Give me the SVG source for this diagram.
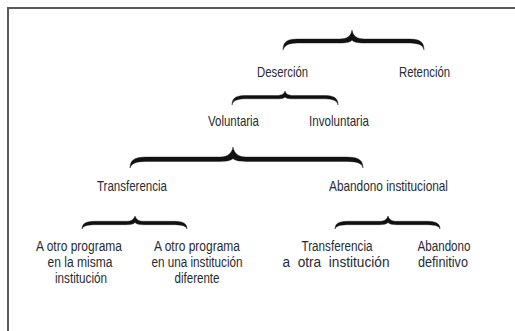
<svg xmlns="http://www.w3.org/2000/svg" width="515" height="331" viewBox="0 0 515 331">
<style>
text{font-family:"Liberation Sans Narrow","Liberation Sans",Arial,sans-serif;font-size:15px;fill:#1f2b36;}
.m{text-anchor:middle;font-size:14px;}
.brace{fill:#111;stroke:#111;stroke-width:0.4;}
.frame{stroke:#5a5a5a;stroke-width:2;fill:none;}
</style>
<rect width="515" height="331" fill="#fff"/>
<path class="frame" d="M8,331 L8,8 L515,8"/>
<g id="connectors">
<path class="brace" d="M283,50 C283,40 289,39 301,39 L340,39 C347,39 351,36 352,30 C353,36 357,39 364,39 L406,39 C418,39 424,40 424,50 C423,44 417,43 406,43 L364,43 C357,43 353,42 352,40 C351,42 347,43 340,43 L301,43 C290,43 285,44 283,50 Z"/>
<path class="brace" d="M232,105 C232,97 237,95.5 247,95.5 L276,95.5 C282,95.5 284,94 285,91 C286,94 288,95.5 294,95.5 L323,95.5 C333,95.5 338,97 338,105 C337,100 332,98.8 323,98.8 L294,98.8 C289,98.8 286,98.5 285,97 C284,98.5 281,98.8 276,98.8 L247,98.8 C238,98.8 233,100 232,105 Z"/>
<path class="brace" d="M130,168 C130,158 137,157 150,157 L220,157 C228,157 232,153 233,147 C234,153 238,157 246,157 L343,157 C356,157 363,158 363,168 C362,162 355,161.4 343,161.4 L246,161.4 C239,161.4 235,160.5 233,158.5 C231,160.5 227,161.4 220,161.4 L150,161.4 C138,161.4 132,162 130,168 Z"/>
<path class="brace" d="M82,229 C82,222.5 87,221.3 97,221.3 L126,221.3 C132,221.3 134,219 135,216 C136,219 138,221.3 144,221.3 L172,221.3 C182,221.3 187,222.5 187,229 C186,225.5 181,224.7 172,224.7 L144,224.7 C139,224.7 136.5,224 135,222.5 C133.5,224 131,224.7 126,224.7 L97,224.7 C88,224.7 83,225.5 82,229 Z"/>
<path class="brace" d="M335,229 C335,222.5 340,221.3 350,221.3 L379,221.3 C385,221.3 387,219 388,216 C389,219 391,221.3 397,221.3 L425,221.3 C435,221.3 440,222.5 440,229 C439,225.5 434,224.7 425,224.7 L397,224.7 C392,224.7 389.5,224 388,222.5 C386.5,224 384,224.7 379,224.7 L350,224.7 C341,224.7 336,225.5 335,229 Z"/>
</g>
<g id="desercion"><text x="257" y="77" textLength="51" lengthAdjust="spacingAndGlyphs">Deserción</text></g>
<g id="retencion"><text x="399" y="77" textLength="51" lengthAdjust="spacingAndGlyphs">Retención</text></g>
<g id="voluntaria"><text x="208" y="126" textLength="51" lengthAdjust="spacingAndGlyphs">Voluntaria</text></g>
<g id="involuntaria"><text x="309" y="126" textLength="60" lengthAdjust="spacingAndGlyphs">Involuntaria</text></g>
<g id="transferencia"><text x="97" y="191" textLength="70" lengthAdjust="spacingAndGlyphs">Transferencia</text></g>
<g id="abandono-institucional"><text x="329" y="191" textLength="119" lengthAdjust="spacingAndGlyphs">Abandono institucional</text></g>
<g id="misma-institucion">
<text class="m" x="79" y="251" textLength="86" lengthAdjust="spacingAndGlyphs">A otro programa</text>
<text class="m" x="80" y="267" textLength="65" lengthAdjust="spacingAndGlyphs">en la misma</text>
<text class="m" x="81" y="283" textLength="52" lengthAdjust="spacingAndGlyphs">institución</text>
</g>
<g id="institucion-diferente">
<text class="m" x="197" y="251" textLength="86" lengthAdjust="spacingAndGlyphs">A otro programa</text>
<text class="m" x="197" y="267" textLength="91" lengthAdjust="spacingAndGlyphs">en una institución</text>
<text class="m" x="197" y="283" textLength="45" lengthAdjust="spacingAndGlyphs">diferente</text>
</g>
<g id="transferencia-otra">
<text class="m" x="337" y="251" textLength="71" lengthAdjust="spacingAndGlyphs">Transferencia</text>
<text class="m" x="336" y="267" xml:space="preserve" style="white-space:pre" textLength="107" lengthAdjust="spacingAndGlyphs">a  otra  institución</text>
</g>
<g id="abandono-definitivo">
<text class="m" x="444" y="251" textLength="53" lengthAdjust="spacingAndGlyphs">Abandono</text>
<text class="m" x="443" y="267" textLength="50" lengthAdjust="spacingAndGlyphs">definitivo</text>
</g>
</svg>
